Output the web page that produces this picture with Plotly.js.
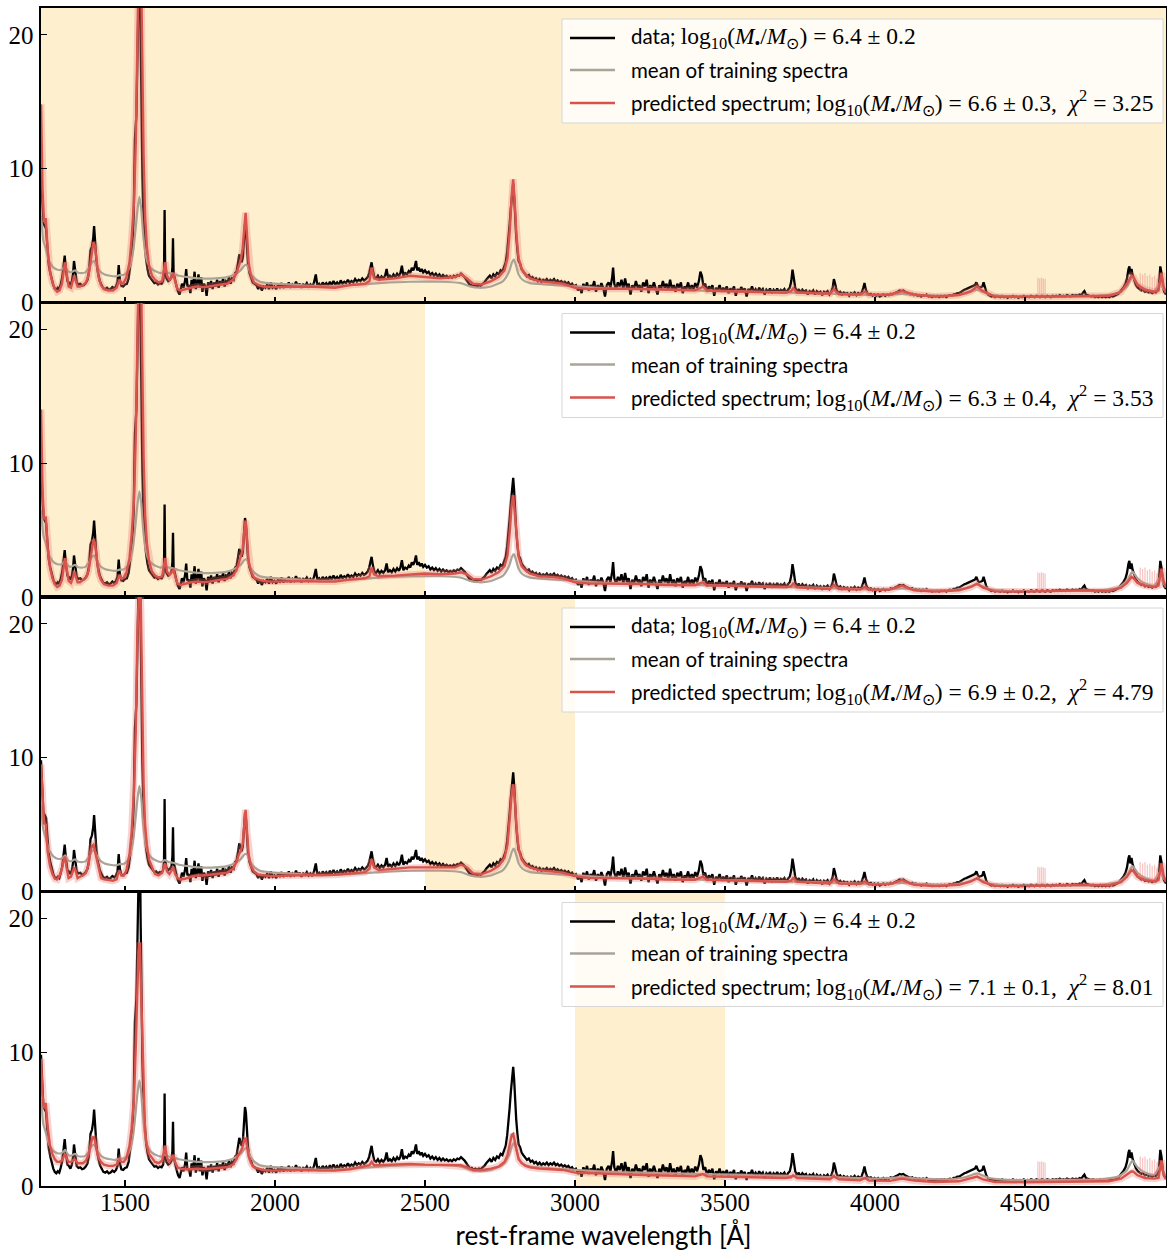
<!DOCTYPE html>
<html><head><meta charset="utf-8">
<script src="https://cdn.plot.ly/plotly-3.0.1.min.js"></script>
<style>html,body{margin:0;padding:0;background:#fff}</style>
</head><body><div id="chart" style="width:1167px;height:1255px"></div>
<script>
// ---------- DATA ----------
// observed spectrum: [rest-frame wavelength (Å), flux]
const dataSpectrum = [
[1220,9.8],[1224,7.6],[1228,5.9],[1233,5.7],[1237,5.5],[1241,4.2],[1246,2.8],[1251,2.2],[1256,1.6],[1261,1.3],
[1266,1.05],[1271,0.95],[1276,1.1],[1281,1.0],[1286,1.4],[1291,1.9],[1296,2.9],[1299,3.5],[1303,2.5],[1308,1.6],
[1313,1.5],[1318,1.3],[1323,1.6],[1327,2.2],[1330,3.1],[1334,2.3],[1339,1.5],[1345,1.35],[1351,1.4],[1357,1.25],
[1363,1.3],[1369,1.45],[1375,1.7],[1380,2.3],[1385,3.9],[1390,4.2],[1394,4.8],[1397,5.7],[1401,4.4],[1405,3.0],
[1410,2.2],[1416,1.6],[1422,1.3],[1428,1.05],[1434,1.0],[1440,1.1],[1446,0.95],[1452,1.0],[1458,1.15],[1464,1.05],
[1470,1.2],[1475,1.5],[1479,2.8],[1483,1.7],[1488,1.25],[1494,1.2],[1500,1.35],[1506,1.4],[1512,1.8],[1517,2.6],
[1521,3.4],[1525,4.4],[1529,6.5],[1533,12.2],[1538,14],[1542,19],[1546,26],[1549,28],[1552,20],[1555,13],
[1558,9.4],[1562,6.0],[1566,4.6],[1570,3.3],[1575,2.5],[1580,2.0],[1586,1.8],[1592,1.6],[1598,1.45],[1604,1.5],
[1610,1.35],[1616,1.45],[1622,1.4],[1627,1.6],[1630,2.2],[1632,6.9],[1634,2.4],[1638,1.8],[1644,1.6],[1650,1.7],
[1655,1.9],[1658,2.6],[1660,4.8],[1662,2.2],[1667,1.6],[1672,1.2],[1677,0.8],[1682,0.6],[1686,1.0],[1690,1.4],
[1695,1.1],[1700,1.6],[1704,2.5],[1708,1.2],[1713,1.3],[1718,0.7],[1722,1.7],[1727,1.2],[1732,2.3],[1736,1.0],
[1741,1.5],[1745,2.1],[1749,1.1],[1754,1.9],[1758,0.8],[1763,1.4],[1768,1.2],[1772,0.5],[1777,1.5],[1782,1.1],
[1787,1.6],[1792,1.0],[1797,1.5],[1802,1.2],[1807,1.7],[1812,1.1],[1817,1.6],[1822,1.3],[1827,1.8],[1832,1.2],
[1837,1.6],[1842,1.5],[1847,1.9],[1852,1.4],[1857,1.8],[1862,1.7],[1867,2.2],[1872,2.3],[1877,3.0],[1881,3.6],
[1885,3.3],[1889,3.0],[1893,3.4],[1897,4.8],[1900,5.9],[1903,5.5],[1906,4.0],[1910,2.9],[1915,2.2],[1920,1.8],
[1926,1.5],[1932,1.4],[1938,1.3],[1944,1.0],[1950,1.3],[1956,0.9],[1962,1.2],[1968,1.1],[1974,1.35],[1980,1.0],
[1986,1.5],[1992,1.1],[1998,1.2],[2004,1.0],[2010,1.3],[2016,1.15],[2022,1.45],[2028,1.1],[2034,1.3],[2040,1.2],
[2046,1.5],[2052,1.1],[2058,1.35],[2064,1.2],[2070,1.55],[2076,1.2],[2082,1.4],[2088,1.1],[2094,1.35],[2100,1.25],
[2106,1.45],[2112,1.2],[2118,1.35],[2124,1.15],[2130,1.5],[2136,2.1],[2141,1.3],[2147,1.4],[2153,1.2],[2159,1.5],
[2165,1.3],[2171,1.45],[2177,1.25],[2183,1.55],[2189,1.3],[2195,1.6],[2201,1.35],[2207,1.5],[2213,1.3],[2219,1.65],
[2225,1.4],[2231,1.55],[2237,1.45],[2243,1.7],[2249,1.45],[2255,1.6],[2261,1.5],[2267,1.75],[2273,1.55],[2279,1.7],
[2285,1.6],[2291,1.8],[2297,1.65],[2303,1.75],[2309,1.9],[2314,2.2],[2318,2.7],[2322,3.0],[2326,2.4],[2331,1.9],
[2337,1.8],[2343,2.0],[2349,1.75],[2355,1.95],[2361,1.8],[2367,2.0],[2372,2.5],[2377,1.85],[2383,2.0],[2389,1.85],
[2395,2.1],[2401,1.9],[2407,2.15],[2413,1.95],[2418,2.2],[2423,2.75],[2428,2.0],[2434,2.2],[2440,2.1],[2446,2.35],
[2451,2.2],[2456,2.6],[2461,2.4],[2466,2.7],[2470,3.1],[2474,2.4],[2479,2.6],[2484,2.3],[2489,2.5],[2494,2.25],
[2500,2.4],[2506,2.2],[2512,2.3],[2518,2.05],[2524,2.2],[2530,2.0],[2536,2.15],[2542,1.95],[2548,2.1],[2554,1.9],
[2560,2.05],[2566,1.9],[2572,2.0],[2578,1.85],[2584,1.95],[2590,1.85],[2596,2.0],[2602,1.9],[2608,2.05],[2614,2.0],
[2620,2.15],[2626,2.05],[2632,1.9],[2638,1.7],[2644,1.45],[2650,1.3],[2656,1.35],[2662,1.2],[2668,1.3],[2674,1.2],
[2680,1.3],[2686,1.25],[2692,1.4],[2698,1.5],[2704,1.7],[2710,1.85],[2716,2.0],[2722,1.8],[2728,2.1],[2734,1.95],
[2740,2.2],[2746,2.1],[2752,2.4],[2758,2.3],[2764,2.7],[2769,3.0],[2774,3.8],[2778,4.6],[2782,5.8],[2786,7.0],
[2790,8.3],[2794,8.9],[2797,8.0],[2800,6.4],[2804,5.0],[2808,3.9],[2812,3.1],[2817,2.9],[2822,2.5],[2828,2.3],
[2834,2.1],[2840,1.95],[2846,2.05],[2852,1.8],[2858,1.9],[2864,1.7],[2870,1.8],[2876,1.6],[2882,1.75],[2888,1.55],
[2894,1.7],[2900,1.6],[2906,1.75],[2912,1.55],[2918,1.7],[2924,1.6],[2930,1.75],[2936,1.55],[2942,1.65],[2948,1.5],
[2954,1.6],[2960,1.45],[2966,1.55],[2972,1.4],[2978,1.5],[2984,1.3],[2990,1.4],[2996,1.2],[3003,1.3],[3010,0.9],
[3016,1.2],[3022,0.7],[3028,1.4],[3034,1.0],[3040,1.5],[3046,0.9],[3052,1.3],[3058,1.1],[3064,1.6],[3070,0.8],
[3076,1.3],[3082,1.0],[3088,1.45],[3094,1.1],[3100,0.45],[3106,1.3],[3112,1.5],[3118,1.1],[3124,1.9],[3127,2.6],
[3131,1.4],[3137,1.0],[3143,1.5],[3149,1.2],[3155,1.7],[3161,1.0],[3167,1.8],[3173,1.1],[3179,1.4],[3185,0.6],
[3191,1.3],[3197,1.0],[3203,1.6],[3209,1.1],[3215,1.3],[3221,0.8],[3227,1.5],[3233,1.2],[3239,1.7],[3245,0.7],
[3251,1.3],[3257,1.0],[3263,1.5],[3269,1.1],[3275,0.6],[3281,1.3],[3287,1.0],[3293,1.6],[3299,1.1],[3305,1.4],
[3311,0.9],[3317,1.7],[3323,1.0],[3329,1.3],[3335,0.8],[3341,1.4],[3347,1.1],[3353,1.5],[3359,0.7],[3365,1.2],
[3371,1.0],[3377,1.5],[3383,0.9],[3389,1.3],[3395,1.0],[3401,1.45],[3407,1.1],[3413,1.6],[3418,2.3],[3423,2.0],
[3428,1.2],[3434,1.4],[3440,0.8],[3446,1.2],[3452,1.0],[3458,1.3],[3464,0.5],[3470,1.1],[3476,0.9],[3482,1.3],
[3488,0.8],[3494,1.1],[3500,0.9],[3506,1.2],[3512,0.7],[3518,1.05],[3524,0.85],[3530,1.2],[3536,0.5],[3542,1.0],
[3548,0.8],[3554,1.15],[3560,0.9],[3566,1.05],[3572,0.45],[3578,1.0],[3584,0.85],[3590,1.2],[3596,0.8],[3602,1.0],
[3608,0.75],[3614,1.1],[3620,0.85],[3626,1.0],[3632,0.6],[3638,0.95],[3644,0.8],[3650,1.05],[3656,0.7],[3662,0.95],
[3668,0.8],[3674,1.05],[3680,0.75],[3686,0.95],[3692,0.85],[3698,1.0],[3704,0.7],[3710,0.95],[3716,1.1],[3721,1.6],
[3725,2.45],[3729,1.9],[3734,1.1],[3740,0.8],[3746,1.0],[3752,0.7],[3758,0.95],[3764,0.8],[3770,0.9],[3776,0.6],
[3782,0.85],[3788,0.75],[3794,0.9],[3800,0.6],[3806,0.85],[3812,0.7],[3818,0.8],[3824,0.55],[3830,0.8],[3836,0.7],
[3842,0.85],[3848,0.6],[3854,0.8],[3859,1.1],[3863,1.75],[3867,1.4],[3872,0.9],[3878,0.7],[3884,0.8],[3890,0.6],
[3896,0.75],[3902,0.65],[3908,0.7],[3914,0.5],[3920,0.7],[3926,0.6],[3932,0.75],[3938,0.55],[3944,0.7],[3950,0.6],
[3956,0.75],[3961,1.1],[3965,1.45],[3969,1.0],[3974,0.7],[3980,0.6],[3986,0.65],[3992,0.5],[3998,0.6],[4004,0.5],
[4010,0.6],[4016,0.45],[4022,0.55],[4028,0.6],[4034,0.5],[4040,0.6],[4046,0.55],[4052,0.65],[4058,0.6],[4064,0.7],
[4070,0.75],[4076,0.8],[4082,0.9],[4088,0.85],[4094,0.9],[4100,0.8],[4106,0.75],[4112,0.7],[4118,0.6],[4124,0.65],
[4130,0.55],[4136,0.6],[4142,0.5],[4148,0.55],[4154,0.45],[4160,0.55],[4166,0.5],[4172,0.6],[4178,0.45],[4184,0.5],
[4190,0.4],[4196,0.5],[4202,0.45],[4208,0.5],[4214,0.4],[4220,0.5],[4226,0.45],[4232,0.5],[4238,0.4],[4244,0.5],
[4250,0.55],[4256,0.5],[4262,0.6],[4268,0.6],[4274,0.7],[4280,0.7],[4286,0.8],[4292,0.85],[4298,0.95],[4304,1.0],
[4310,1.05],[4316,1.1],[4322,1.15],[4328,1.2],[4333,1.3],[4338,1.5],[4343,1.2],[4348,1.1],[4353,1.15],[4358,1.2],
[4362,1.5],[4366,1.1],[4371,0.8],[4376,0.6],[4382,0.55],[4388,0.45],[4394,0.5],[4400,0.4],[4406,0.5],[4412,0.45],
[4418,0.4],[4424,0.5],[4430,0.4],[4436,0.45],[4442,0.35],[4448,0.45],[4454,0.4],[4460,0.5],[4466,0.4],[4472,0.45],
[4478,0.35],[4484,0.45],[4490,0.4],[4496,0.5],[4502,0.4],[4508,0.45],[4514,0.4],[4520,0.5],[4526,0.45],[4532,0.4],
[4538,0.5],[4544,0.45],[4550,0.4],[4556,0.5],[4562,0.45],[4568,0.4],[4574,0.5],[4580,0.45],[4586,0.4],[4592,0.5],
[4598,0.45],[4604,0.5],[4610,0.45],[4616,0.55],[4622,0.45],[4628,0.5],[4634,0.45],[4640,0.55],[4646,0.5],[4652,0.45],
[4658,0.55],[4664,0.5],[4670,0.55],[4676,0.5],[4682,0.6],[4688,0.55],[4694,0.75],[4698,0.85],[4703,0.6],[4709,0.55],
[4715,0.5],[4721,0.45],[4727,0.5],[4733,0.4],[4739,0.45],[4745,0.4],[4751,0.5],[4757,0.4],[4763,0.45],[4769,0.4],
[4775,0.45],[4781,0.4],[4787,0.5],[4793,0.45],[4799,0.5],[4805,0.55],[4811,0.65],[4817,0.8],[4823,0.95],[4829,1.15],
[4835,1.4],[4840,1.8],[4845,2.5],[4848,2.7],[4851,2.1],[4855,2.5],[4859,2.0],[4864,1.6],[4870,1.3],[4876,1.1],
[4882,1.0],[4888,0.9],[4894,0.95],[4900,0.8],[4906,0.85],[4912,0.75],[4918,0.8],[4924,0.7],[4930,0.8],[4936,0.75],
[4942,0.9],[4947,1.4],[4951,2.7],[4955,2.2],[4959,1.2],[4964,0.8],[4970,0.6]
];

// mean of training spectra: [wavelength, flux]
const meanSpectrum = [
[1220,6.5],[1228,4.6],[1236,4.0],[1244,3.3],[1252,2.9],[1262,2.6],[1275,2.45],[1288,2.45],[1296,2.6],[1301,2.7],
[1308,2.4],[1318,2.25],[1328,2.35],[1334,2.4],[1342,2.25],[1355,2.2],[1368,2.25],[1380,2.6],[1390,3.0],[1397,3.1],
[1406,2.7],[1418,2.3],[1432,2.1],[1450,2.0],[1468,1.95],[1482,2.05],[1495,2.05],[1508,2.3],[1518,2.8],[1527,3.8],
[1535,5.4],[1542,7.0],[1548,7.9],[1554,7.0],[1560,5.2],[1567,3.8],[1575,3.0],[1585,2.6],[1600,2.35],[1620,2.2],
[1633,2.35],[1645,2.2],[1660,2.15],[1680,2.0],[1710,1.9],[1750,1.8],[1800,1.8],[1840,1.9],[1865,2.1],[1885,2.4],
[1900,2.8],[1908,2.75],[1918,2.2],[1932,1.8],[1950,1.55],[1980,1.45],[2050,1.35],[2150,1.2],[2250,1.3],[2350,1.45],
[2450,1.55],[2550,1.55],[2620,1.45],[2650,1.2],[2680,1.1],[2720,1.2],[2760,1.6],[2780,2.3],[2790,3.0],[2796,3.2],
[2803,2.8],[2812,2.1],[2825,1.7],[2850,1.45],[2900,1.35],[3000,1.2],[3100,1.05],[3200,1.0],[3300,0.95],[3400,0.9],
[3500,0.85],[3600,0.8],[3700,0.75],[3800,0.7],[3900,0.62],[4000,0.55],[4090,0.65],[4150,0.55],[4250,0.5],[4300,0.65],
[4340,0.95],[4380,0.6],[4450,0.45],[4600,0.45],[4750,0.5],[4810,0.7],[4840,1.2],[4858,1.9],[4875,1.4],[4900,1.0],
[4930,0.85],[4952,1.5],[4962,1.0],[4970,0.8]
];

// wavelength grid of the predicted spectra
const predWl = [
1220,1225,1230,1236,1242,1250,1258,1266,1274,1282,
1290,1296,1300,1305,1312,1320,1326,1331,1336,1342,
1350,1360,1370,1378,1385,1390,1395,1400,1405,1412,
1420,1430,1445,1460,1472,1478,1482,1488,1496,1505,
1515,1522,1530,1536,1541,1545,1549,1553,1557,1562,
1567,1573,1580,1590,1600,1612,1624,1630,1634,1640,
1648,1656,1661,1667,1675,1685,1700,1720,1740,1760,
1780,1800,1820,1840,1860,1872,1880,1886,1892,1897,
1902,1907,1912,1920,1930,1945,1960,1990,2050,2100,
2150,2200,2250,2300,2315,2322,2330,2345,2400,2450,
2500,2550,2600,2620,2640,2660,2690,2720,2745,2765,
2775,2783,2789,2794,2799,2805,2812,2822,2835,2850,
2880,2920,2960,3000,3050,3100,3150,3200,3250,3300,
3350,3400,3420,3426,3440,3500,3600,3700,3720,3727,
3740,3800,3850,3863,3868,3880,3950,3967,3980,4050,
4090,4130,4200,4280,4320,4340,4360,4400,4500,4600,
4700,4780,4820,4840,4855,4862,4875,4900,4930,4945,
4955,4962,4970];

// predicted spectrum, panel 1 (whole spectrum shaded)
const pred1 = [
14.8,8.5,6.0,6.3,4.0,2.3,1.5,1.0,0.8,0.9,
1.4,2.4,3.0,2.3,1.2,1.1,1.5,2.0,1.6,1.2,
1.2,1.3,1.5,2.0,3.0,3.8,4.5,4.2,3.0,1.9,
1.3,1.0,0.9,0.9,1.1,1.5,1.7,1.4,1.5,1.9,
3.0,4.8,7.5,12,20,26,30,26,18,11,
6.5,4.2,2.8,2.0,1.7,1.5,1.6,2.4,3.0,2.0,
1.7,1.9,2.2,1.6,1.0,0.9,1.0,1.1,1.2,1.15,
1.2,1.3,1.35,1.4,1.7,2.2,2.8,3.2,4.0,5.5,
6.7,5.0,3.0,2.0,1.5,1.3,1.2,1.15,1.2,1.2,
1.15,1.1,1.3,1.4,1.6,2.6,1.8,1.7,1.8,2.0,
1.9,1.8,1.9,2.1,1.8,1.4,1.35,1.6,1.9,2.4,
3.3,5.5,8.0,9.2,7.5,5.0,3.3,2.5,2.1,1.8,
1.6,1.5,1.4,1.1,1.0,1.05,1.05,1.0,1.0,0.97,
0.97,0.92,1.1,1.2,0.9,0.85,0.78,0.72,0.85,1.05,
0.75,0.68,0.65,1.0,0.85,0.62,0.6,0.8,0.58,0.6,
0.85,0.6,0.45,0.55,0.85,1.2,0.85,0.45,0.42,0.45,
0.5,0.5,0.8,1.4,2.0,1.9,1.3,0.95,0.8,0.9,
2.2,1.2,0.7];

// predicted spectrum, panel 2 (1220-2500 Å shaded)
const pred2 = [
14.0,8.0,5.8,6.0,3.8,2.2,1.4,0.95,0.75,0.85,
1.3,2.3,2.9,2.2,1.2,1.05,1.4,1.9,1.5,1.1,
1.1,1.25,1.45,1.9,2.9,3.7,4.3,4.0,2.9,1.8,
1.25,0.95,0.85,0.85,1.05,1.45,1.65,1.35,1.45,1.85,
2.9,4.6,7.3,12,20,26,29,25,17,10.5,
6.2,4.0,2.7,1.9,1.6,1.45,1.55,2.3,2.9,1.9,
1.65,1.85,2.1,1.55,1.0,0.9,1.0,1.1,1.15,1.1,
1.15,1.25,1.3,1.35,1.6,2.0,2.6,2.9,3.5,4.8,
5.7,4.3,2.7,1.9,1.45,1.3,1.2,1.15,1.2,1.2,
1.15,1.15,1.3,1.4,1.55,2.2,1.7,1.55,1.6,1.7,
1.75,1.7,1.75,1.85,1.7,1.35,1.3,1.55,1.85,2.3,
3.1,5.0,6.9,7.6,6.4,4.4,3.0,2.3,2.0,1.75,
1.55,1.5,1.4,1.1,1.0,1.0,1.0,0.95,0.95,0.9,
0.9,0.88,1.05,1.1,0.88,0.85,0.78,0.72,0.8,1.0,
0.72,0.65,0.6,0.9,0.8,0.6,0.55,0.75,0.52,0.55,
0.85,0.5,0.4,0.5,0.75,1.0,0.7,0.42,0.4,0.45,
0.5,0.45,0.7,1.05,1.5,1.4,1.05,0.85,0.75,0.85,
2.1,1.2,0.7];

// predicted spectrum, panel 3 (2500-3000 Å shaded)
const pred3 = [
9.5,7.0,5.1,5.0,3.0,1.9,1.3,0.95,0.9,1.2,
1.7,2.4,2.6,1.8,1.0,1.1,1.5,1.8,1.5,1.0,
1.1,1.2,1.4,2.0,3.0,3.4,3.5,3.0,2.3,1.6,
1.0,0.9,0.85,0.8,0.9,1.4,1.5,1.2,1.2,1.6,
2.8,4.4,7.5,12,19,22.5,24,21,14,8,
5.0,3.5,2.4,1.8,1.3,1.2,1.4,1.9,2.1,1.5,
1.3,1.6,1.8,1.3,1.0,0.9,0.95,1.1,1.2,1.2,
1.25,1.3,1.35,1.4,1.7,2.2,2.8,3.0,3.5,4.8,
6.1,4.4,2.8,1.9,1.5,1.25,1.2,1.15,1.2,1.2,
1.2,1.25,1.35,1.45,1.7,2.4,1.8,1.6,1.7,1.8,
1.8,1.8,1.8,2.0,1.8,1.35,1.3,1.55,1.9,2.5,
3.5,5.6,7.3,8.0,7.0,4.8,3.2,2.4,2.0,1.8,
1.6,1.5,1.4,1.15,1.0,1.0,1.0,0.95,0.95,0.9,
0.9,0.88,1.05,1.1,0.88,0.85,0.78,0.72,0.8,1.0,
0.72,0.65,0.6,0.9,0.8,0.6,0.55,0.75,0.52,0.55,
0.85,0.5,0.4,0.5,0.75,1.0,0.7,0.42,0.4,0.45,
0.5,0.45,0.7,1.1,1.6,1.5,1.1,0.85,0.75,0.85,
2.1,1.2,0.7];

// predicted spectrum, panel 4 (3000-3500 Å shaded)
const pred4 = [
9.5,6.8,5.8,6.2,4.5,3.0,2.4,2.0,1.8,1.8,
1.9,2.2,2.4,2.1,1.8,1.8,1.9,2.0,1.9,1.7,
1.7,1.7,1.9,2.3,3.0,3.5,3.7,3.4,2.7,2.1,
1.8,1.6,1.5,1.5,1.6,1.9,2.0,1.8,1.8,2.1,
3.0,4.3,6.6,10.5,14.5,17.5,18.2,15,10,6.0,
4.0,3.0,2.4,2.1,1.8,1.7,1.9,2.6,3.0,2.1,
1.8,2.1,2.3,1.8,1.4,1.3,1.25,1.25,1.3,1.25,
1.3,1.3,1.35,1.4,1.6,2.0,2.4,2.6,2.9,3.4,
3.6,3.0,2.2,1.7,1.4,1.3,1.2,1.15,1.2,1.2,
1.15,1.15,1.25,1.5,1.55,1.8,1.55,1.55,1.6,1.65,
1.6,1.6,1.55,1.55,1.4,1.2,1.2,1.3,1.45,1.8,
2.3,3.2,3.8,3.9,3.4,2.6,2.0,1.7,1.5,1.4,
1.3,1.25,1.2,1.0,0.95,0.9,0.9,0.85,0.8,0.78,
0.75,0.72,0.85,0.9,0.72,0.68,0.63,0.6,0.65,0.8,
0.6,0.55,0.5,0.75,0.65,0.5,0.42,0.6,0.4,0.38,
0.55,0.4,0.3,0.35,0.55,0.7,0.5,0.3,0.28,0.3,
0.35,0.35,0.55,0.85,1.1,1.05,0.8,0.6,0.55,0.6,
1.9,0.8,0.5];

// uncertainty spikes of the prediction
const spikeWl = [4543,4549,4555,4561,4567,4884,4892,4900,4908,4916,4924,4932,4940];
const spikeLo = [0.4,0.4,0.4,0.4,0.4,0.8,0.8,0.75,0.75,0.7,0.7,0.7,0.7];
const spikeHi = [1.85,1.8,1.85,1.8,1.75,2.2,2.1,2.2,2.0,2.1,1.9,2.0,1.8];

// shaded wavelength windows per panel
const shadeStart = [1220, 1220, 2500, 3000];
const shadeEnd   = [4970, 2500, 3000, 3500];

// legend values per panel
const trueMass = '6.4 ± 0.2';
const predMass = ['6.6 ± 0.3', '6.3 ± 0.4', '6.9 ± 0.2', '7.1 ± 0.1'];
const chi2 = ['3.25', '3.53', '4.79', '8.01'];

const xTicks = [1500, 2000, 2500, 3000, 3500, 4000, 4500];
const yTicks = [0, 10, 20];
const xRange = [1220, 4970];
const yRange = [0, 22];

// ---------- FIGURE ----------
const W = 1167, H = 1255, ML = 41, MR = 1, MT = 8, MB = 69;
const PW = W - ML - MR, PH = H - MT - MB;
const px2x = p => (p - ML) / PW;
const py2y = p => (H - MB - p) / PH;

const C_DATA = '#000000', C_MEAN = '#a8a598', C_PRED = '#d9534d', C_BAND = 'rgba(232,120,112,0.33)', C_SHADE = '#fef0cf';
const SERIF = 'Liberation Serif';
const SANS = 'Lato';

const dX = dataSpectrum.map(p => p[0]), dY = dataSpectrum.map(p => p[1]);
const mX = meanSpectrum.map(p => p[0]), mY = meanSpectrum.map(p => p[1]);
const preds = [pred1, pred2, pred3, pred4];

const spX = [], spY = [];
spikeWl.forEach((w, i) => { spX.push(w, w, null); spY.push(spikeLo[i], spikeHi[i], null); });

const traces = [];
const layout = {
  width: W, height: H, margin: {l: ML, r: MR, t: MT, b: MB},
  paper_bgcolor: '#fff', plot_bgcolor: 'rgba(0,0,0,0)', showlegend: false,
  font: {family: SANS},
  shapes: [], annotations: []
};

for (let i = 0; i < 4; i++) {
  const s = i === 0 ? '' : String(i + 1);
  const xa = 'x' + s, ya = 'y' + s;
  traces.push({x: dX, y: dY, xaxis: xa, yaxis: ya, mode: 'lines', line: {color: C_DATA, width: 2.3}, hoverinfo: 'skip'});
  traces.push({x: mX, y: mY, xaxis: xa, yaxis: ya, mode: 'lines', line: {color: C_MEAN, width: 2.2, shape: 'spline', smoothing: 0.6}, hoverinfo: 'skip'});
  traces.push({x: predWl, y: preds[i], xaxis: xa, yaxis: ya, mode: 'lines', line: {color: C_BAND, width: 7}, hoverinfo: 'skip'});
  traces.push({x: spX, y: spY, xaxis: xa, yaxis: ya, mode: 'lines', line: {color: 'rgba(235,130,125,0.45)', width: 1.3}, hoverinfo: 'skip'});
  traces.push({x: predWl, y: preds[i], xaxis: xa, yaxis: ya, mode: 'lines', line: {color: C_PRED, width: 2.4}, hoverinfo: 'skip'});

  const axCommon = {showline: true, mirror: true, linecolor: '#000', linewidth: 1.6, ticks: 'inside', ticklen: 6, tickwidth: 1.2,
    tickcolor: '#000', showgrid: false, zeroline: false, tickfont: {family: SERIF, size: 25, color: '#000'}};
  layout['xaxis' + s] = Object.assign({}, axCommon, {
    domain: [0, 1], range: xRange, anchor: ya, tickmode: 'array', tickvals: xTicks, showticklabels: i === 3,
    ticklabelstandoff: -7
  });
  if (i > 0) layout['xaxis' + s].matches = 'x';
  if (i === 3) layout['xaxis' + s].title = {text: 'rest-frame wavelength [Å]', font: {family: SANS, size: 26, color: '#000'}, standoff: 12};
  layout['yaxis' + s] = Object.assign({}, axCommon, {
    domain: [(3 - i) / 4, (4 - i) / 4], range: yRange, anchor: xa, tickmode: 'array', tickvals: yTicks, ticklabelstandoff: 1
  });

  // shaded window
  layout.shapes.push({type: 'rect', xref: xa, yref: ya + ' domain', x0: shadeStart[i], x1: shadeEnd[i], y0: 0, y1: 1,
    fillcolor: C_SHADE, line: {width: 0}, layer: 'below'});

  // legend (drawn as box + sample lines + labels)
  const top = MT + i * PH / 4 + 11;
  layout.shapes.push({type: 'rect', xref: 'paper', yref: 'paper', x0: px2x(562), x1: px2x(1163), y0: py2y(top), y1: py2y(top + 104),
    fillcolor: 'rgba(255,255,255,0.8)', line: {color: '#d6d6d6', width: 1}, layer: 'above'});
  const rows = [top + 19, top + 51, top + 84];
  const cols = [C_DATA, C_MEAN, C_PRED];
  const math = t => `<span style="font-family:${SERIF};font-size:23.5px">${t}</span>`;
  const massTxt = m => math(`log<sub>10</sub>(<i>M</i><sub>•</sub>/<i>M</i><sub>⊙</sub>) = ${m}`);
  const labels = [
    'data; ' + massTxt(trueMass),
    'mean of training spectra',
    'predicted spectrum; ' + massTxt(predMass[i]) + math(',\u00a0\u00a0<i>χ</i><sup>2</sup> = ' + chi2[i])
  ];
  rows.forEach((ry, k) => {
    layout.shapes.push({type: 'line', xref: 'paper', yref: 'paper', x0: px2x(570), x1: px2x(615), y0: py2y(ry), y1: py2y(ry),
      line: {color: cols[k], width: 2.6}, layer: 'above'});
    layout.annotations.push({xref: 'paper', yref: 'paper', x: px2x(629), y: py2y(ry), xanchor: 'left', yanchor: 'middle',
      showarrow: false, text: labels[k], font: {family: SANS, size: 20.5, color: '#000'}});
  });
}

Plotly.newPlot('chart', traces, layout, {displayModeBar: false, staticPlot: true});
</script></body></html>
